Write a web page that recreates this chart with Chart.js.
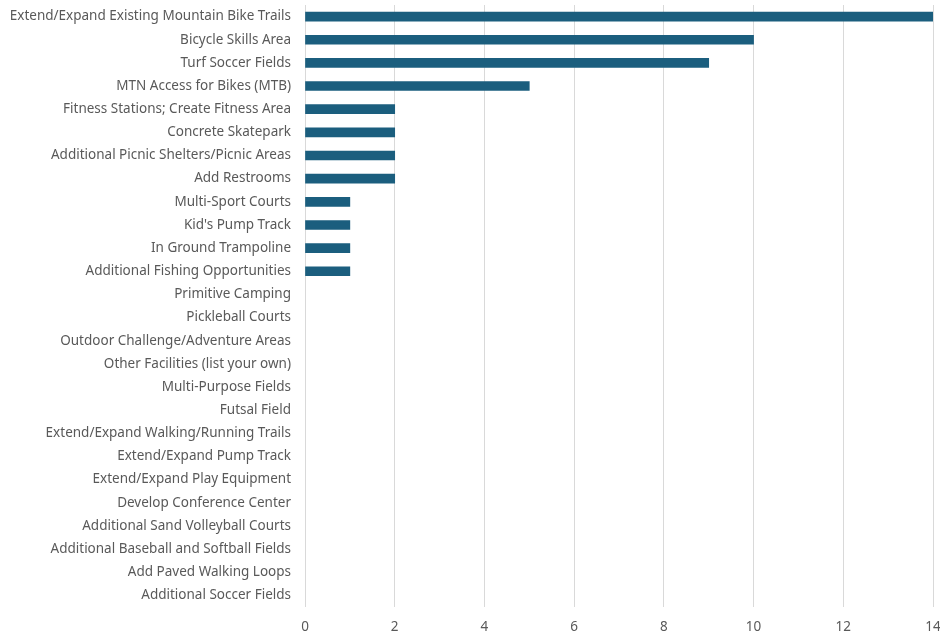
<!DOCTYPE html>
<html lang="en">
<head>
  <meta charset="UTF-8" />
  <title>Amenity Requests</title>
  <script src="https://cdn.jsdelivr.net/npm/chart.js"></script>
  <style>
    html, body { margin: 0; padding: 0; background: #fff; }
    #wrap { width: 940px; height: 633px; }
  </style>
</head>
<body>
  <div id="wrap"><canvas id="barChart"></canvas></div>

  <script>
    const categories = [
      'Extend/Expand Existing Mountain Bike Trails',
      'Bicycle Skills Area',
      'Turf Soccer Fields',
      'MTN Access for Bikes (MTB)',
      'Fitness Stations; Create Fitness Area',
      'Concrete Skatepark',
      'Additional Picnic Shelters/Picnic Areas',
      'Add Restrooms',
      'Multi-Sport Courts',
      "Kid's Pump Track",
      'In Ground Trampoline',
      'Additional Fishing Opportunities',
      'Primitive Camping',
      'Pickleball Courts',
      'Outdoor Challenge/Adventure Areas',
      'Other Facilities (list your own)',
      'Multi-Purpose Fields',
      'Futsal Field',
      'Extend/Expand Walking/Running Trails',
      'Extend/Expand Pump Track',
      'Extend/Expand Play Equipment',
      'Develop Conference Center',
      'Additional Sand Volleyball Courts',
      'Additional Baseball and Softball Fields',
      'Add Paved Walking Loops',
      'Additional Soccer Fields'
    ];
    const votes = [14, 10, 9, 5, 2, 2, 2, 2, 1, 1, 1, 1, 0, 0, 0, 0, 0, 0, 0, 0, 0, 0, 0, 0, 0, 0];
    const xMin = 0;
    const xMax = 14;
    const xStep = 2;

    const fontFamily = '"Noto Sans", sans-serif';
    const textColor = '#595959';
    const barColor = '#1b5e7e';

    const ctx = document.getElementById('barChart').getContext('2d');
    new Chart(ctx, {
      type: 'bar',
      data: {
        labels: categories,
        datasets: [{
          data: votes,
          // zero values draw nothing, like the original
          backgroundColor: c => (c.raw > 0 ? barColor : 'rgba(0,0,0,0)'),
          barThickness: 9
        }]
      },
      options: {
        indexAxis: 'y',
        responsive: true,
        maintainAspectRatio: false,
        animation: false,
        layout: { padding: { top: 5, right: 7, left: 0, bottom: 0 } },
        plugins: {
          legend: { display: false },
          tooltip: { enabled: false }
        },
        scales: {
          x: {
            min: xMin,
            max: xMax,
            ticks: {
              stepSize: xStep,
              color: textColor,
              padding: 12,
              font: { family: fontFamily, size: 13.5 }
            },
            grid: { color: '#d9d9d9', lineWidth: 1, drawTicks: false },
            border: { display: false },
            afterFit: scale => {
              scale.height = 26;
              scale.paddingLeft = 0;
              scale.paddingRight = 0;
            }
          },
          y: {
            ticks: {
              color: textColor,
              padding: 6,
              autoSkip: false,
              font: { family: fontFamily, size: 13.5 }
            },
            grid: { display: false },
            border: { display: false },
            afterFit: scale => {
              scale.width = 305;
              scale.paddingTop = 0;
              scale.paddingBottom = 0;
            }
          }
        }
      }
    });
  </script>
</body>
</html>
